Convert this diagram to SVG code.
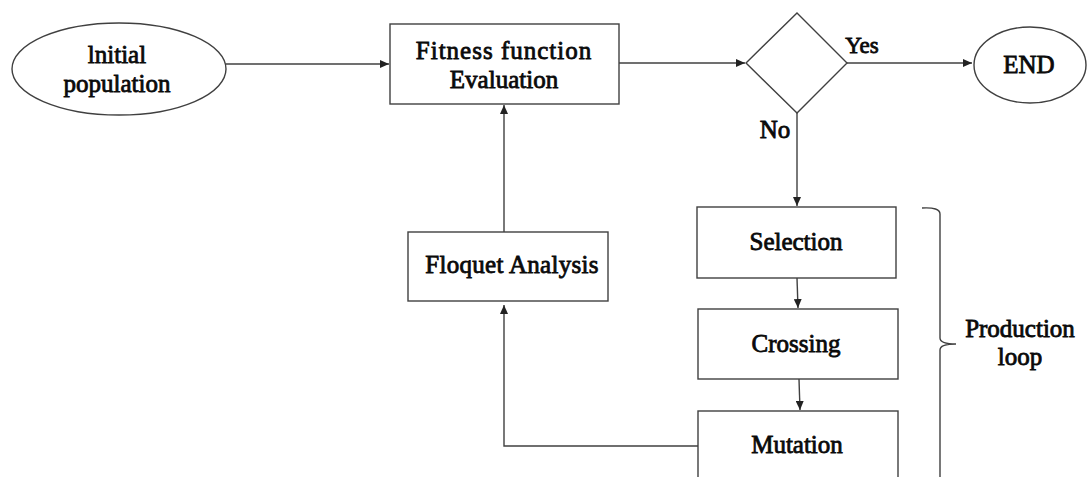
<svg xmlns="http://www.w3.org/2000/svg" width="1088" height="477" viewBox="0 0 1088 477">
<style>
.shape{fill:#fff;stroke:#404040;stroke-width:1.4}
.t{font-family:"Liberation Serif","Times New Roman",serif;font-size:25px;fill:#0a0a0a;stroke:#0a0a0a;stroke-width:0.8;text-anchor:middle}
.c{fill:none;stroke:#404040;stroke-width:1.4}
</style>
<defs>
<marker id="ah" markerWidth="10" markerHeight="8" refX="9" refY="4" orient="auto" markerUnits="userSpaceOnUse">
<path d="M0,0 L9,4 L0,8 Z" fill="#222"/>
</marker>
</defs>
<rect width="1088" height="477" fill="#fff"/>
<g id="connectors">
<line class="c" x1="226" y1="64" x2="389" y2="64" marker-end="url(#ah)"/>
<line class="c" x1="619" y1="63" x2="745" y2="63" marker-end="url(#ah)"/>
<line class="c" x1="847" y1="63" x2="972" y2="63" marker-end="url(#ah)"/>
<line class="c" x1="797" y1="113" x2="797" y2="206" marker-end="url(#ah)"/>
<line class="c" x1="797" y1="278" x2="798" y2="308" marker-end="url(#ah)"/>
<line class="c" x1="799" y1="379" x2="800" y2="410" marker-end="url(#ah)"/>
<line class="c" x1="504" y1="232" x2="504" y2="105" marker-end="url(#ah)"/>
<polyline class="c" points="698,446 504,446 504,305" marker-end="url(#ah)"/>
<path class="c" d="M922,208 Q940,207 940,214 L940,338 Q940,344 956,344 Q940,344 940,350 L940,477"/>
</g>
<g id="initial">
<ellipse class="shape" cx="119" cy="69" rx="107" ry="46"/>
<text class="t" x="117" y="63">lnitial</text>
<text class="t" x="117" y="92">population</text>
</g>
<g id="fitness">
<rect class="shape" x="390" y="24" width="229" height="80"/>
<text class="t" x="504" y="59" letter-spacing="1">Fitness function</text>
<text class="t" x="504" y="88">Evaluation</text>
</g>
<g id="decision">
<polygon class="shape" points="797,13 847,63 797,113 746,63"/>
</g>
<g id="labels">
<text class="t" x="862" y="53" style="font-size:23px">Yes</text>
<text class="t" x="775" y="138">No</text>
</g>
<g id="end">
<ellipse class="shape" cx="1030" cy="65" rx="56" ry="38"/>
<text class="t" x="1029" y="73">END</text>
</g>
<g id="selection">
<rect class="shape" x="697" y="207" width="199" height="71"/>
<text class="t" x="796" y="250">Selection</text>
</g>
<g id="crossing">
<rect class="shape" x="698" y="309" width="200" height="70"/>
<text class="t" x="796" y="352">Crossing</text>
</g>
<g id="mutation">
<rect class="shape" x="698" y="411" width="200" height="80"/>
<text class="t" x="797" y="453">Mutation</text>
</g>
<g id="floquet">
<rect class="shape" x="408" y="232" width="200" height="69"/>
<text class="t" x="512" y="273" letter-spacing="0.3">Floquet Analysis</text>
</g>
<g id="production">
<text class="t" x="1020" y="337">Production</text>
<text class="t" x="1020" y="365">loop</text>
</g>
</svg>
